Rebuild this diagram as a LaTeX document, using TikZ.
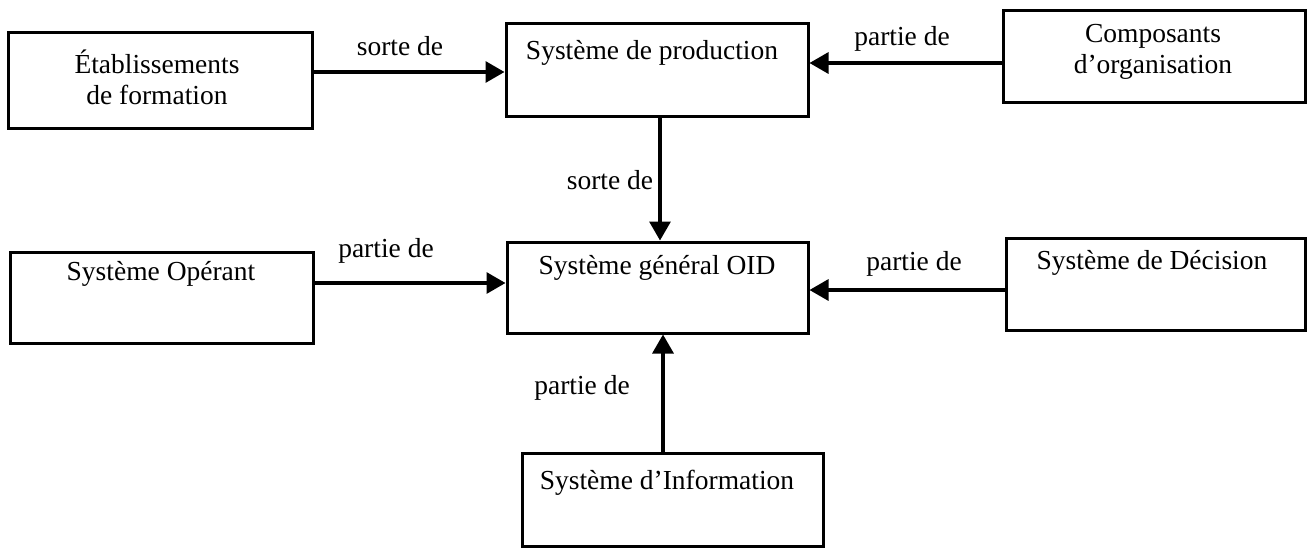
\documentclass[tikz,border=0pt]{standalone}
\usepackage{fontspec}
\setmainfont{Liberation Serif}
\usetikzlibrary{arrows.meta}
\begin{document}
\begin{tikzpicture}[x=1pt,y=-1pt,
  box/.style={draw, line width=3pt, rectangle, inner sep=0pt},
  txt/.style={font=\fontsize{27.5}{31}\selectfont, align=center, inner sep=0pt},
  lbl/.style={font=\fontsize{27.5}{31}\selectfont, inner sep=0pt},
  arr/.style={line width=3.2pt, -{Triangle[length=19pt,width=21pt]}}]
\useasboundingbox[fill=white] (0,0) rectangle (1312,547);
% boxes
\node[box, minimum width=304pt, minimum height=96pt] (b1) at (160,80) {};
\node[box, minimum width=302pt, minimum height=93pt] (b2) at (657,69.5) {};
\node[box, minimum width=302pt, minimum height=92pt] (b3) at (1154,56) {};
\node[box, minimum width=303pt, minimum height=91pt] (b4) at (161.5,297.5) {};
\node[box, minimum width=301pt, minimum height=91pt] (b5) at (657.5,287.5) {};
\node[box, minimum width=299pt, minimum height=92pt] (b6) at (1155.5,284) {};
\node[box, minimum width=301pt, minimum height=93pt] (b7) at (672.5,499.5) {};
% texts
\node[txt] (t1) at (157,77) {Établissements\\de formation};
\node[txt] (t2) at (652,53) {Système de production};
\node[txt] (t3) at (1153,52) {Composants\\d’organisation};
\node[txt] (t4) at (161,274) {Système Opérant};
\node[txt] (t5) at (657,268) {Système général OID};
\node[txt] (t6) at (1152,263) {Système de Décision};
\node[txt] (t7) at (667,483) {Système d’Information};
% arrow levels
\coordinate (y1) at (0,72);
\coordinate (y2) at (0,63);
\coordinate (y4) at (0,283);
\coordinate (y5) at (0,290);
\coordinate (x3) at (660,0);
\coordinate (x6) at (663,0);
\draw[arr] (b1.east |- y1) -- (b2.west |- y1);
\draw[arr] (b3.west |- y2) -- (b2.east |- y2);
\draw[arr] (b2.south -| x3) -- (b5.north -| x3);
\draw[arr] (b4.east |- y4) -- (b5.west |- y4);
\draw[arr] (b6.west |- y5) -- (b5.east |- y5);
\draw[arr] (b7.north -| x6) -- (b5.south -| x6);
% labels
\node[lbl] (l1) at (400,46) {sorte de};
\node[lbl] (l2) at (902,39) {partie de};
\node[lbl] (l3) at (610,180) {sorte de};
\node[lbl] (l4) at (386,251) {partie de};
\node[lbl] (l5) at (914,264) {partie de};
\node[lbl] (l6) at (582,388) {partie de};
\end{tikzpicture}
\end{document}
